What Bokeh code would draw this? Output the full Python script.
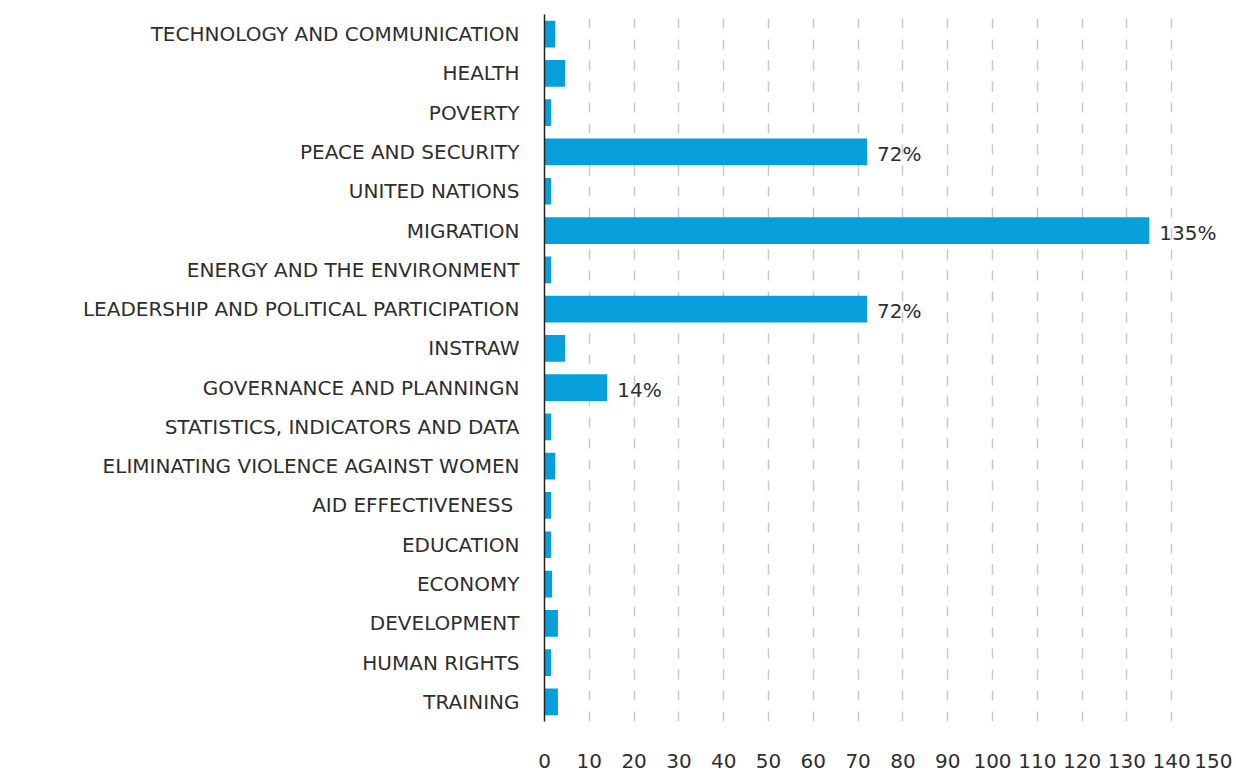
from bokeh.plotting import figure
from bokeh.models import ColumnDataSource, FixedTicker, FactorRange, Range1d
from bokeh.embed import file_html
from bokeh.resources import INLINE
from bokeh.core.properties import value

categories = [
    "TECHNOLOGY AND COMMUNICATION",
    "HEALTH",
    "POVERTY",
    "PEACE AND SECURITY",
    "UNITED NATIONS",
    "MIGRATION",
    "ENERGY AND THE ENVIRONMENT",
    "LEADERSHIP AND POLITICAL PARTICIPATION",
    "INSTRAW",
    "GOVERNANCE AND PLANNINGN",
    "STATISTICS, INDICATORS AND DATA",
    "ELIMINATING VIOLENCE AGAINST WOMEN",
    "AID EFFECTIVENESS ",
    "EDUCATION",
    "ECONOMY",
    "DEVELOPMENT",
    "HUMAN RIGHTS",
    "TRAINING",
]
values = [2.4, 4.6, 1.5, 72, 1.5, 135, 1.5, 72, 4.6, 14,
          1.5, 2.4, 1.5, 1.5, 1.7, 3.0, 1.5, 3.0]
labels = ["", "", "", "72%", "", "135%", "", "72%", "", "14%",
          "", "", "", "", "", "", "", ""]
x_ticks = [0, 10, 20, 30, 40, 50, 60, 70, 80, 90, 100, 110, 120, 130, 140, 150]

FONT = "DejaVu Sans"
TEXT = "#2e2e2e"
BAR = "#069fdb"

src = ColumnDataSource(dict(cat=categories, val=values, lab=labels))

p = figure(
    width=1232, height=775,
    y_range=FactorRange(factors=list(reversed(categories))),
    x_range=Range1d(0, 150),
    output_backend="svg", toolbar_location=None,
    min_border_left=544, min_border_right=16,
    min_border_top=14, min_border_bottom=54,
)
p.outline_line_color = None
p.background_fill_color = "white"

p.hbar(y="cat", right="val", left=0, height=0.68, source=src,
       fill_color=BAR, line_color=None)

p.text(x="val", y="cat", text="lab", source=src,
       x_offset=10, y_offset=2,
       text_font=value(FONT), text_font_size="20px",
       text_color=TEXT, text_baseline="middle", text_align="left")

# grid
p.ygrid.grid_line_color = None
p.xgrid.ticker = FixedTicker(ticks=x_ticks)
p.xgrid.grid_line_color = "#c8c8c8"
p.xgrid.grid_line_width = 1.5
p.xgrid.grid_line_dash = "10 11"

# x axis
p.xaxis.ticker = FixedTicker(ticks=x_ticks)
p.xaxis.axis_line_color = None
p.xaxis.major_tick_line_color = None
p.xaxis.minor_tick_line_color = None
p.xaxis.major_tick_out = 0
p.xaxis.major_label_standoff = 32
p.xaxis.major_label_text_font = FONT
p.xaxis.major_label_text_font_size = "20px"
p.xaxis.major_label_text_color = TEXT

# y axis
p.yaxis.axis_line_color = "#222222"
p.yaxis.axis_line_width = 1.5
p.yaxis.major_tick_line_color = None
p.yaxis.minor_tick_line_color = None
p.yaxis.major_tick_out = 0
p.yaxis.major_label_standoff = 25
p.yaxis.major_label_text_font = FONT
p.yaxis.major_label_text_font_size = "20px"
p.yaxis.major_label_text_color = TEXT

open("out.html", "w").write(file_html(p, INLINE))
